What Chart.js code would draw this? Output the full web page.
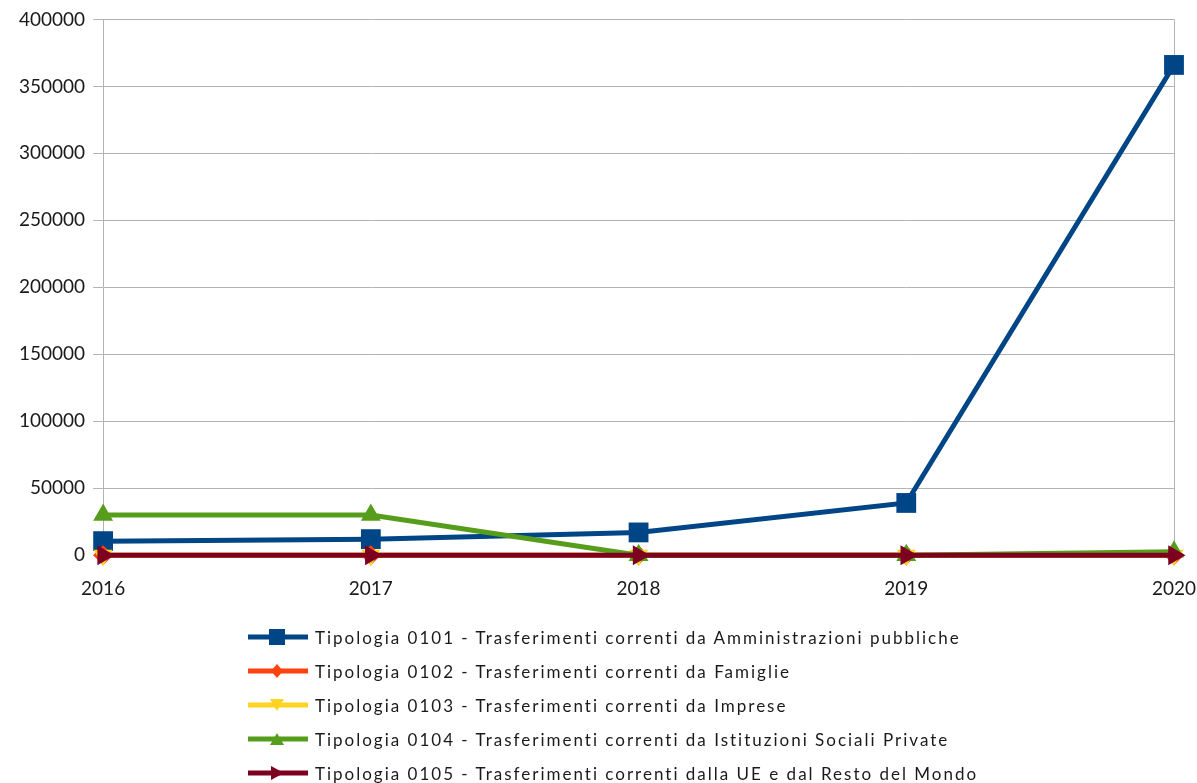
<!DOCTYPE html>
<html>
<head>
<meta charset="utf-8">
<script src="https://cdn.jsdelivr.net/npm/chart.js@4"></script>
<style>
  body { margin: 0; background: #fff; }
  #wrap { position: relative; width: 1197px; height: 783px; }
  #chartBox { position: absolute; left: 0; top: 0; width: 1197px; height: 634px; }
  #legend { position: absolute; left: 248px; top: 620px; font-family: Lato, sans-serif; font-size: 17px; color: #1a1a1a; }
  .item { display: flex; align-items: center; height: 34px; white-space: nowrap; letter-spacing: 2px; }
  .item svg { margin-right: 7px; }
</style>
</head>
<body>
<div id="wrap">
  <div id="chartBox"><canvas id="lineChart"></canvas></div>
  <div id="legend"></div>
</div>
<script>
const years = ['2016', '2017', '2018', '2019', '2020'];
const seriesNames = [
    'Tipologia 0101 - Trasferimenti correnti da Amministrazioni pubbliche',
    'Tipologia 0102 - Trasferimenti correnti da Famiglie',
    'Tipologia 0103 - Trasferimenti correnti da Imprese',
    'Tipologia 0104 - Trasferimenti correnti da Istituzioni Sociali Private',
    'Tipologia 0105 - Trasferimenti correnti dalla UE e dal Resto del Mondo'
];
const amministrazioni = [10500, 12000, 17000, 39000, 366000];
const famiglie = [0, 0, 0, 0, 0];
const imprese = [0, 0, 0, 0, 0];
const istituzioni = [30000, 30000, 0, 0, 2500];
const ueMondo = [0, 0, 0, 0, 0];
const yTicks = [0, 50000, 100000, 150000, 200000, 250000, 300000, 350000, 400000];

const colors = ['#004586', '#ff420e', '#ffd320', '#579d1c', '#7e0021'];
const shapes = ['rect', 'rectRot', 'triangle', 'triangle', 'triangle'];
const rotations = [0, 0, 180, 0, 90];
const radii = [14, 10, 11, 11.5, 11.5];
const allData = [amministrazioni, famiglie, imprese, istituzioni, ueMondo];

const datasets = allData.map((d, i) => ({
    label: seriesNames[i],
    data: d,
    borderColor: colors[i],
    backgroundColor: colors[i],
    borderWidth: 5,
    pointStyle: shapes[i],
    pointRotation: rotations[i],
    pointRadius: radii[i],
    pointHoverRadius: radii[i],
    pointBorderWidth: 0,
    tension: 0,
    clip: false,
    order: 5 - i
}));

const ctx = document.getElementById('lineChart').getContext('2d');
new Chart(ctx, {
    type: 'line',
    data: { labels: years, datasets: datasets },
    options: {
        responsive: true,
        maintainAspectRatio: false,
        animation: false,
        layout: { autoPadding: false, padding: { top: 19, right: 0, left: 11, bottom: 12 } },
        plugins: { legend: { display: false }, tooltip: { enabled: false } },
        scales: {
            x: {
                offset: false,
                afterFit: (axis) => { axis.paddingRight = 23; },
                grid: {
                    color: (c) => (c.index === years.length - 1 ? '#b3b3b3' : 'rgba(0,0,0,0)'),
                    drawTicks: false
                },
                border: { display: false },
                ticks: { color: '#1a1a1a', font: { family: 'Lato', size: 19 }, padding: 22, maxRotation: 0 }
            },
            y: {
                min: 0,
                max: 400000,
                afterBuildTicks: (axis) => { axis.ticks = yTicks.map(v => ({ value: v })); },
                grid: { color: '#b3b3b3', tickLength: 10, lineWidth: 1 },
                border: { color: '#b3b3b3' },
                ticks: {
                    color: '#1a1a1a',
                    font: { family: 'Lato', size: 19 },
                    padding: 8,
                    callback: (v) => String(v)
                }
            }
        }
    }
});

// legenda html
const legend = document.getElementById('legend');
seriesNames.forEach((name, i) => {
    const row = document.createElement('div');
    row.className = 'item';
    let marker = '';
    if (i === 0) marker = '<rect x="21" y="2" width="16" height="16" fill="' + colors[i] + '"/>';
    if (i === 1) marker = '<polygon points="29,3 35,10 29,17 23,10" fill="' + colors[i] + '"/>';
    if (i === 2) marker = '<polygon points="22,4 36,4 29,16" fill="' + colors[i] + '"/>';
    if (i === 3) marker = '<polygon points="22,16 36,16 29,4" fill="' + colors[i] + '"/>';
    if (i === 4) marker = '<polygon points="23,3 23,17 36,10" fill="' + colors[i] + '"/>';
    row.innerHTML = '<svg width="60" height="20"><line x1="0" y1="10" x2="60" y2="10" stroke="' + colors[i] + '" stroke-width="5"/>' + marker + '</svg><span>' + name + '</span>';
    legend.appendChild(row);
});
</script>
</body>
</html>
